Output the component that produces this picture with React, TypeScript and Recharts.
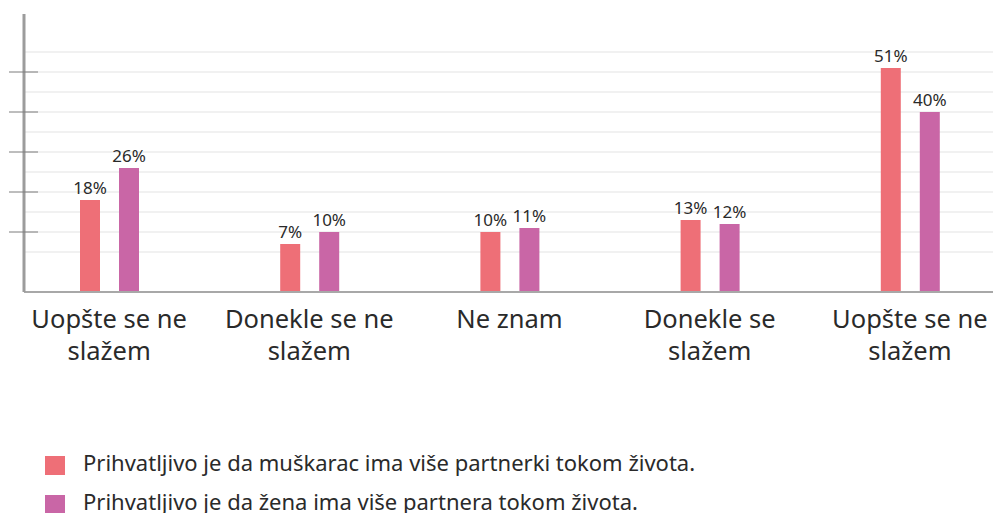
import React from "react";
import {
  BarChart,
  Bar,
  XAxis,
  YAxis,
  CartesianGrid,
  Legend,
  LabelList,
} from "recharts";

const categories = [
  "Uopšte se ne slažem",
  "Donekle se ne slažem",
  "Ne znam",
  "Donekle se slažem",
  "Uopšte se ne slažem",
];
const categoryLines = [
  ["Uopšte se ne", "slažem"],
  ["Donekle se ne", "slažem"],
  ["Ne znam"],
  ["Donekle se", "slažem"],
  ["Uopšte se ne", "slažem"],
];
const menValues = [18, 7, 10, 13, 51];
const womenValues = [26, 10, 11, 12, 40];
const menName = "Prihvatljivo je da muškarac ima više partnerki tokom života.";
const womenName = "Prihvatljivo je da žena ima više partnera tokom života.";

// bars in the original start a bit below zero
const axisFloor = -5;
const axisTop = 64.5;
const gridValues = [5, 10, 15, 20, 25, 30, 35, 40, 45, 50, 55];
const tickMarkValues = [10, 20, 30, 40, 50];

const PINK = "#ee6f77";
const PURPLE = "#c966a6";
const TEXT = "#2a2a2a";

const data = categories.map((c, i) => ({
  category: c,
  men: menValues[i],
  women: womenValues[i],
}));

function YTick(props: any) {
  const { x, y, payload } = props;
  if (!tickMarkValues.includes(payload.value)) return <g />;
  return <line x1={x - 15} x2={x + 14} y1={y} y2={y} stroke="#7d7d7d" strokeWidth={1} />;
}

function XTick(props: any) {
  const { x, y, payload } = props;
  const lines = categoryLines[payload.index] || [payload.value];
  return (
    <text x={x} y={y + 36} textAnchor="middle" fill={TEXT} fontSize={25.5}>
      {lines.map((l, i) => (
        <tspan key={i} x={x} dy={i === 0 ? 0 : 32}>
          {l}
        </tspan>
      ))}
    </text>
  );
}

function LegendBox(props: any) {
  const items = props.payload || [];
  return (
    <div>
      {items.map((it: any) => (
        <div
          key={it.value}
          style={{ display: "flex", alignItems: "center", height: 39 }}
        >
          <span
            style={{
              display: "inline-block",
              width: 20,
              height: 19,
              background: it.color,
              marginRight: 18,
            }}
          />
          <span style={{ fontSize: 22, color: TEXT, position: "relative", top: -4 }}>
            {it.value}
          </span>
        </div>
      ))}
    </div>
  );
}

export default function App() {
  return (
    <div
      style={{
        position: "absolute",
        left: 0,
        top: 0,
        width: 993,
        height: 513,
        overflow: "hidden",
        background: "#fff",
        fontFamily: "'Noto Sans', sans-serif",
      }}
    >
      <BarChart
        width={993}
        height={513}
        data={data}
        margin={{ top: 14, right: 0, left: 23, bottom: 0 }}
        barSize={20}
        barGap={19}
      >
        <CartesianGrid
          vertical={false}
          stroke="#e3e3e3"
          horizontalValues={gridValues}
        />
        <XAxis
          dataKey="category"
          height={158}
          padding={{ left: -15, right: -17 }}
          axisLine={{ stroke: "#a8a8a8", strokeWidth: 2 }}
          tickLine={false}
          tickSize={0}
          tickMargin={0}
          interval={0}
          tick={<XTick />}
        />
        <YAxis
          width={1}
          type="number"
          domain={[axisFloor, axisTop]}
          ticks={gridValues}
          interval={0}
          allowDataOverflow
          axisLine={{ stroke: "#9c9c9c", strokeWidth: 3 }}
          tickLine={false}
          tickSize={0}
          tickMargin={0}
          tick={<YTick />}
        />
        <Legend
          layout="horizontal"
          verticalAlign="bottom"
          align="left"
          content={<LegendBox />}
          wrapperStyle={{ top: 446, left: 45, width: 800, height: 63 }}
        />
        <Bar
          name={menName}
          dataKey={(d: any) => [axisFloor, d.men]}
          fill={PINK}
          isAnimationActive={false}
        >
          <LabelList
            position="top"
            offset={6}
            fontSize={17}
            fill={TEXT}
            formatter={(v: any) => `${v}%`}
          />
        </Bar>
        <Bar
          name={womenName}
          dataKey={(d: any) => [axisFloor, d.women]}
          fill={PURPLE}
          isAnimationActive={false}
        >
          <LabelList
            position="top"
            offset={6}
            fontSize={17}
            fill={TEXT}
            formatter={(v: any) => `${v}%`}
          />
        </Bar>
      </BarChart>
    </div>
  );
}
